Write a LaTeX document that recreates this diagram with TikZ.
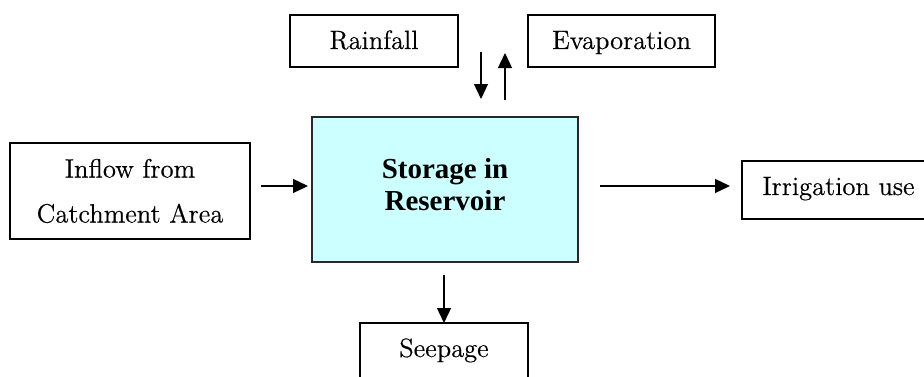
\documentclass[tikz,border=0pt]{standalone}
\usepackage{fontspec}
\newfontfamily\storfont{Liberation Serif}
\newfontfamily\boxfont{lmroman12-regular}[Extension=.otf, FakeBold=0.4]
\usetikzlibrary{arrows.meta}
\definecolor{storefill}{RGB}{204,255,255}
\definecolor{storeline}{RGB}{40,40,40}
\tikzset{
  boxnode/.style={draw=black, line width=1.8pt, rectangle, inner sep=0pt, outer sep=0pt,
    font=\boxfont\fontsize{26.5}{30}\selectfont, text height=20pt, text depth=4pt},
  flowarrow/.style={line width=1.3pt, -{Triangle[length=15pt,width=14pt]}},
}
\begin{document}
\begin{tikzpicture}[x=1pt,y=1pt]
\useasboundingbox (0,0) rectangle (924,376);
\clip (0,0) rectangle (924,376);
\fill[white] (0,0) rectangle (924,376);

\node[boxnode, minimum width=168pt, minimum height=52pt] (rain) at (374,335) {Rainfall};
\node[boxnode, minimum width=187pt, minimum height=52pt] (evap) at (621.5,335) {Evaporation};
\node[draw=storeline, line width=1.5pt, fill=storefill, rectangle, inner sep=0pt, outer sep=0pt,
      minimum width=266pt, minimum height=145pt, align=center,
      font=\storfont\bfseries\fontsize{29}{32}\selectfont, text depth=11pt]
      (store) at (445,186.5) {Storage in\\Reservoir};
\node[draw=black, line width=1.8pt, rectangle, inner sep=0pt, outer sep=0pt,
      minimum width=240pt, minimum height=96pt, align=center,
      font=\boxfont\fontsize{26.5}{45}\selectfont]
      (inflow) at (130,185) {Inflow from\\Catchment Area};
\node[boxnode, minimum width=193pt, minimum height=58pt, text height=17pt, text depth=7pt] (irrig) at (838.5,186) {Irrigation use};
\node[boxnode, minimum width=168pt, minimum height=64pt, text height=14pt, text depth=10pt] (seep) at (444,21) {Seepage};

\coordinate (rainA) at ([xshift=23pt,yshift=15pt]rain.south east);
\coordinate (rainB) at ([xshift=36pt,yshift=18pt]store.north);
\coordinate (evapA) at ([xshift=60pt,yshift=17pt]store.north);
\coordinate (evapB) at ([xshift=-23pt,yshift=14pt]evap.south west);
\coordinate (inA) at ([xshift=11pt,yshift=5pt]inflow.east);
\coordinate (inB) at ([xshift=-4pt,yshift=3.5pt]store.west);
\coordinate (irA) at ([xshift=22pt,yshift=3.5pt]store.east);
\coordinate (irB) at ([xshift=-12pt,yshift=4pt]irrig.west);
\coordinate (seA) at ([yshift=-13pt]store.south -| seep.north);

\draw[flowarrow] (rainA) -- (rainB);
\draw[flowarrow] (evapA) -- (evapB);
\draw[flowarrow] (inA) -- (inB);
\draw[flowarrow] (irA) -- (irB);
\draw[flowarrow] (seA) -- (seep.north);
\end{tikzpicture}
\end{document}
